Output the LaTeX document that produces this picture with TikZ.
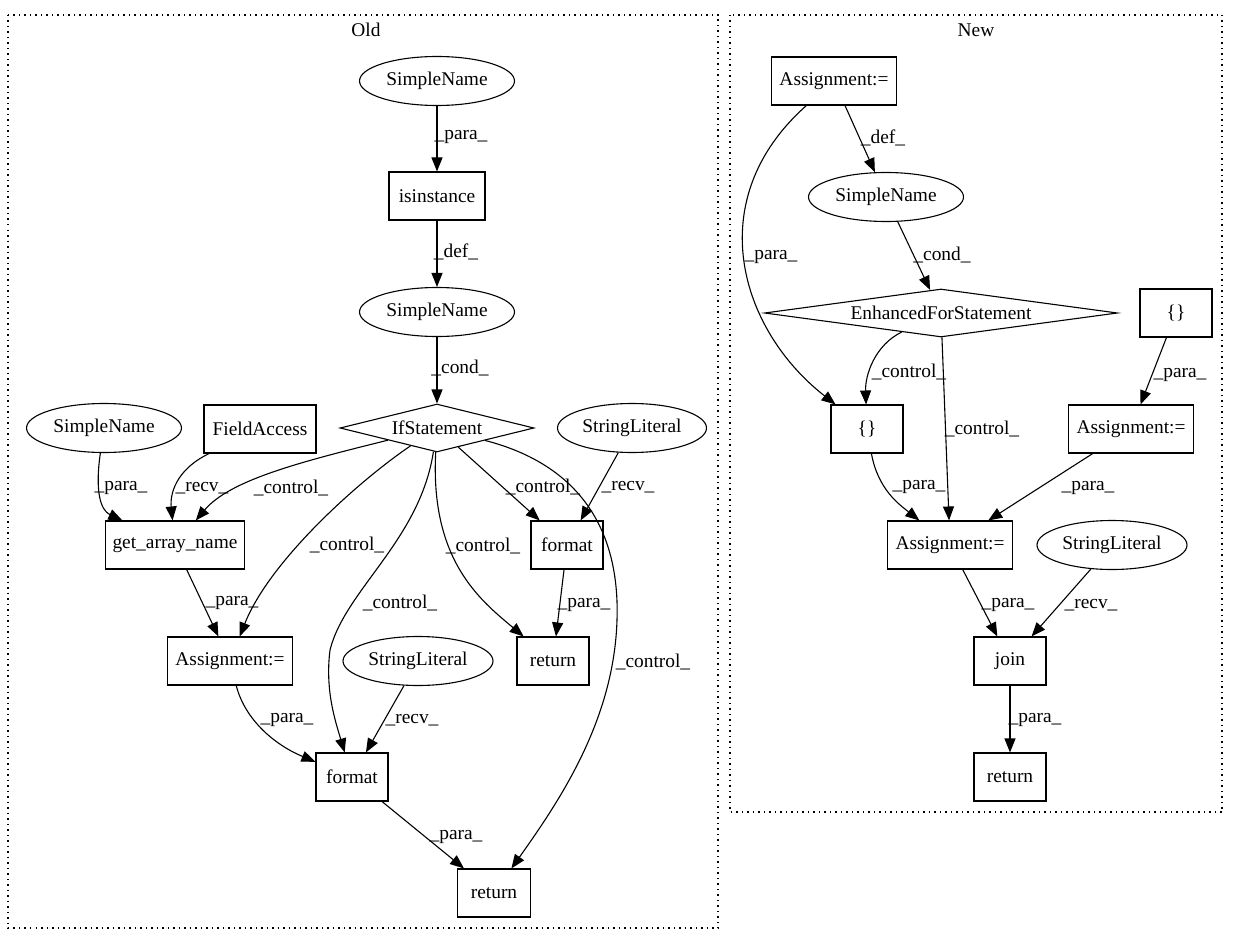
\documentclass[tikz,border=0pt]{standalone}
\usepackage{fontspec}
\setmainfont{Liberation Serif}
\usetikzlibrary{arrows.meta,shapes.geometric}
\begin{document}
\begin{tikzpicture}[x=1pt,y=-1pt,
  every node/.style={font=\fontsize{19.4}{23}\selectfont},
  box/.style={draw, rectangle, line width=1.1pt, minimum height=48pt, inner sep=0pt},
  ell/.style={draw, ellipse, line width=1.1pt, minimum width=155pt, minimum height=49pt, inner sep=0pt},
  dia/.style={draw, diamond, line width=1.1pt, minimum height=48pt, inner sep=0pt},
  edge/.style={line width=1.1pt, -{Triangle[length=14pt 0,width=11pt 0]}},
  lab/.style={inner sep=0pt},
  clus/.style={line width=1.1pt, dash pattern=on 1.5pt off 4pt}
]
\useasboundingbox (0,0) rectangle (1239,944);
% clusters
\draw[clus] (8,15) rectangle (718,928);
\node (oldl) at (366,30) {Old};
\draw[clus] (730,15) rectangle (1222,812);
\node (newl) at (976,30) {New};

% Old nodes
\node[ell] (sn1) at (437,81) {SimpleName};
\node[box, minimum width=96pt] (isin) at (437,196) {isinstance};
\node[ell] (sn2) at (437,312) {SimpleName};
\node[dia, aspect=4, minimum width=194pt] (ifs) at (437,428) {IfStatement};
\node[ell] (sn3) at (104,428) {SimpleName};
\node[box, minimum width=112pt] (fa) at (260,429) {FieldAccess};
\node[ell, minimum width=149pt] (slr) at (632,428) {StringLiteral};
\node[box, minimum width=139pt] (gan) at (175,545) {get\_array\_name};
\node[box, minimum width=72pt] (fmtr) at (567,545) {format};
\node[box, minimum width=125pt] (asgo) at (230,661) {Assignment:=};
\node[ell, minimum width=150pt] (slo) at (418,661) {StringLiteral};
\node[box, minimum width=72pt] (retm) at (553,661) {return};
\node[box, minimum width=72pt] (fmtl) at (352,777) {format};
\node[box, minimum width=73pt] (retb) at (494,893) {return};

% New nodes
\node[box, minimum width=125pt] (asgt) at (834,81) {Assignment:=};
\node[ell] (snn) at (886,197) {SimpleName};
\node[dia, aspect=7.3, minimum width=353pt] (efs) at (941,313) {EnhancedForStatement};
\node[box, minimum width=72pt] (brr) at (1176,313) {\{\}};
\node[box, minimum width=72pt] (brl) at (867,429) {\{\}};
\node[box, minimum width=125pt] (asgr) at (1131,429) {Assignment:=};
\node[box, minimum width=125pt] (asgc) at (950,545) {Assignment:=};
\node[ell, minimum width=150pt] (sln) at (1112,545) {StringLiteral};
\node[box, minimum width=72pt] (join) at (1010,661) {join};
\node[box, minimum width=72pt] (retn) at (1010,777) {return};

% Old edges
\draw[edge] (sn1) -- (isin);
\draw[edge] (isin) -- (sn2);
\draw[edge] (sn2) -- (ifs);
\draw[edge] (sn3) .. controls (95,490) and (100,510) .. (gan);
\draw[edge] (fa) .. controls (175,470) and (170,495) .. (gan);
\draw[edge] (ifs) .. controls (300,462) and (230,480) .. (gan);
\draw[edge] (ifs) .. controls (360,480) and (270,560) .. (asgo);
\draw[edge] (ifs) .. controls (420,540) and (345,590) .. (330,650) .. controls (325,690) and (335,720) .. (fmtl);
\draw[edge] (ifs) .. controls (430,560) and (480,600) .. (retm);
\draw[edge] (ifs) -- (fmtr);
\draw[edge] (slr) -- (fmtr);
\draw[edge] (ifs) .. controls (580,465) and (620,530) .. (617,620) .. controls (614,720) and (560,800) .. (retb);
\draw[edge] (gan) -- (asgo);
\draw[edge] (fmtr) -- (retm);
\draw[edge] (asgo) .. controls (245,720) and (275,745) .. (fmtl);
\draw[edge] (slo) -- (fmtl);
\draw[edge] (fmtl) -- (retb);

% New edges
\draw[edge] (asgt) -- (snn);
\draw[edge] (asgt) .. controls (700,200) and (740,330) .. (brl);
\draw[edge] (snn) -- (efs);
\draw[edge] (efs) .. controls (875,345) and (865,375) .. (brl);
\draw[edge] (efs) -- (asgc);
\draw[edge] (brr) -- (asgr);
\draw[edge] (brl) .. controls (878,490) and (900,505) .. (asgc);
\draw[edge] (asgr) -- (asgc);
\draw[edge] (asgc) -- (join);
\draw[edge] (sln) -- (join);
\draw[edge] (join) -- (retn);

% Old labels
\node[lab] (l1) at (461,137) {\_para\_};
\node[lab] (l2) at (456,252) {\_def\_};
\node[lab] (l3) at (460,368) {\_cond\_};
\node[lab] (l4) at (121,488) {\_para\_};
\node[lab] (l5) at (202,488) {\_recv\_};
\node[lab] (l6) at (291,488) {\_control\_};
\node[lab] (l7) at (543,487) {\_control\_};
\node[lab] (l8) at (628,487) {\_recv\_};
\node[lab] (l9) at (232,603) {\_para\_};
\node[lab] (l10) at (347,545) {\_control\_};
\node[lab] (l11) at (483,546) {\_control\_};
\node[lab] (l12) at (400,603) {\_control\_};
\node[lab] (l13) at (584,605) {\_para\_};
\node[lab] (l14) at (653,662) {\_control\_};
\node[lab] (l15) at (287,720) {\_para\_};
\node[lab] (l16) at (412,720) {\_recv\_};
\node[lab] (l17) at (456,837) {\_para\_};

% New labels
\node[lab] (m1) at (883,138) {\_def\_};
\node[lab] (m2) at (771,257) {\_para\_};
\node[lab] (m3) at (942,255) {\_cond\_};
\node[lab] (m4) at (909,372) {\_control\_};
\node[lab] (m5) at (982,429) {\_control\_};
\node[lab] (m6) at (1180,375) {\_para\_};
\node[lab] (m7) at (919,487) {\_para\_};
\node[lab] (m8) at (1088,488) {\_para\_};
\node[lab] (m9) at (1008,605) {\_para\_};
\node[lab] (m10) at (1091,605) {\_recv\_};
\node[lab] (m11) at (1035,720) {\_para\_};
\end{tikzpicture}
\end{document}
